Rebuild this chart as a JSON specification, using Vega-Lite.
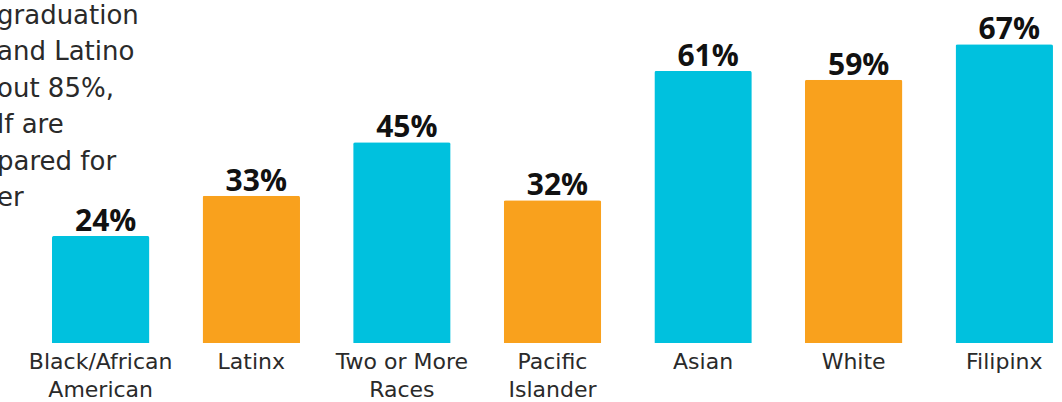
{
  "$schema": "https://vega.github.io/schema/vega-lite/v6.json",
  "width": 1062,
  "height": 343,
  "autosize": {"type": "none"},
  "padding": {"top": 0, "left": 0, "right": 0, "bottom": 59},
  "background": "white",
  "config": {"view": {"stroke": null}},
  "title": {
    "text": ["graduation", "and Latino", "out 85%,", "lf are", "pared for", "er"],
    "anchor": "start",
    "frame": "group",
    "orient": "top",
    "baseline": "top",
    "align": "left",
    "offset": 0,
    "dy": 211,
    "dx": -3,
    "font": "DejaVu Sans",
    "fontSize": 26,
    "fontWeight": "normal",
    "lineHeight": 36.5,
    "color": "#2a2a2a"
  },
  "data": {
    "values": [
      {"race": "Black/African|American", "pct": 24, "label": "24%", "group": "other"},
      {"race": "Latinx", "pct": 33, "label": "33%", "group": "focus"},
      {"race": "Two or More|Races", "pct": 45, "label": "45%", "group": "other"},
      {"race": "Pacific|Islander", "pct": 32, "label": "32%", "group": "focus"},
      {"race": "Asian", "pct": 61, "label": "61%", "group": "other"},
      {"race": "White", "pct": 59, "label": "59%", "group": "focus"},
      {"race": "Filipinx", "pct": 67, "label": "67%", "group": "other"}
    ]
  },
  "encoding": {
    "x": {
      "field": "race",
      "type": "nominal",
      "sort": null,
      "scale": {"paddingInner": 0.353, "paddingOuter": 0.2025, "align": 0.852},
      "axis": {
        "title": null,
        "orient": "bottom",
        "domain": false,
        "ticks": false,
        "grid": false,
        "labelAngle": 0,
        "labelExpr": "split(datum.label, '|')",
        "labelFont": "DejaVu Sans",
        "labelFontWeight": "normal",
        "labelFontSize": 22,
        "labelColor": "#2a2a2a",
        "labelPadding": 8,
        "labelLineHeight": 28,
        "labelBaseline": "top"
      }
    },
    "y": {
      "field": "pct",
      "type": "quantitative",
      "scale": {"domain": [0, 76.9], "nice": false, "zero": true},
      "axis": null
    }
  },
  "layer": [
    {
      "mark": {"type": "bar", "cornerRadiusTopLeft": 2, "cornerRadiusTopRight": 2},
      "encoding": {
        "color": {
          "field": "group",
          "type": "nominal",
          "scale": {"domain": ["other", "focus"], "range": ["#00C1DE", "#F9A11D"]},
          "legend": null
        }
      }
    },
    {
      "mark": {"type": "text", "baseline": "alphabetic", "dy": -5, "dx": 5, "font": "Open Sans", "fontSize": 30, "fontWeight": 700, "color": "#111111"},
      "encoding": {
        "text": {"field": "label", "type": "nominal"}
      }
    }
  ]
}
